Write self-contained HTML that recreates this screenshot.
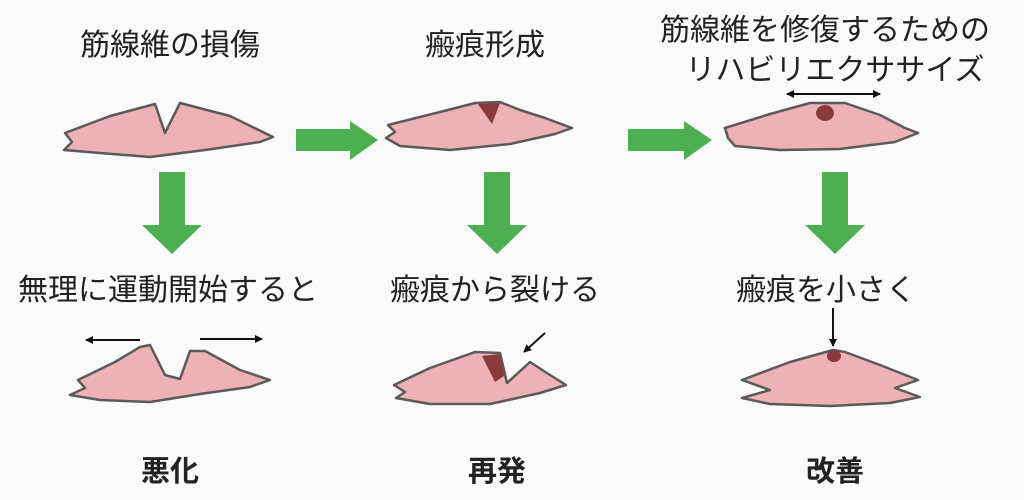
<!DOCTYPE html>
<html><head><meta charset="utf-8"><style>
html,body{margin:0;padding:0;background:#fafafa}
svg{display:block}
text{font-family:"Liberation Sans","Noto Sans CJK JP",sans-serif;fill:#222}
</style></head><body>
<svg width="1024" height="500" viewBox="0 0 1024 500" xmlns="http://www.w3.org/2000/svg">
<defs>
<marker id="ah" markerWidth="8" markerHeight="8" refX="7" refY="4" orient="auto" markerUnits="userSpaceOnUse"><path d="M0,0 L8,4 L0,8 z" fill="#111"/></marker>
</defs>
<rect width="1024" height="500" fill="#fafafa"/>
<g font-size="30" text-anchor="middle">
<text x="170" y="55">筋線維の損傷</text>
<text x="485" y="55">瘢痕形成</text>
<text x="825" y="40">筋線維を修復するための</text>
<text x="835" y="80">リハビリエクササイズ</text>
<text x="168" y="300">無理に運動開始すると</text>
<text x="495" y="300">瘢痕から裂ける</text>
<text x="826" y="300">瘢痕を小さく</text>
</g>
<g font-size="29" font-weight="bold" text-anchor="middle">
<text x="170" y="481">悪化</text>
<text x="497" y="481">再発</text>
<text x="835" y="481">改善</text>
</g>
<g fill="#4caf50">
<path d="M296,129 H350 V121 L378,140 L350,160 V151 H296 z"/>
<path d="M628,129 H684 V121 L712,140 L684,160 V151 H628 z"/>
<path d="M159,172 H185 V225 H202 L172,254 L142,225 H159 z"/>
<path d="M484,172 H510 V225 H527 L497,254 L467,225 H484 z"/>
<path d="M822,172 H848 V225 H865 L835,254 L805,225 H822 z"/>
</g>
<g fill="#eeb1b5" stroke="#5a5a5a" stroke-width="2.5" stroke-linejoin="round">
<path d="M65,133 L110,116 L155,104 L165,133 L180,103 L230,116 L273,137 L260,142 L205,150 L150,157 L100,153 L64,150 L72,142 z"/>
<path d="M388,125 L440,112 L475,103 L500,102 L520,110 L545,118 L572,128 L555,134 L510,144 L450,150 L400,146 L386,138 L395,132 z"/>
<path d="M725,128 L770,114 L810,103 L845,103 L880,115 L905,128 L918,133 L895,142 L840,149 L780,150 L735,146 L728,138 z"/>
<path d="M78,380 L115,362 L140,347 L150,345 L165,375 L180,379 L190,351 L205,351 L240,370 L270,380 L250,387 L200,394 L150,402 L100,400 L70,395 L85,388 z"/>
<path d="M394,385 L430,368 L475,352 L500,353 L507,383 L530,362 L550,375 L566,385 L540,393 L490,404 L430,404 L396,398 L405,392 z"/>
<path d="M742,380 L790,362 L833,350 L845,352 L880,365 L918,380 L895,388 L920,397 L890,403 L830,406 L770,404 L742,398 L770,390 z"/>
</g>
<g fill="#8a3a3a">
<path d="M478,104 L500,103 L492,124 z"/>
<ellipse cx="825" cy="113" rx="9" ry="8"/>
<path d="M482,356 L500,354 L504,376 L495,382 z"/>
<ellipse cx="834" cy="356" rx="7" ry="6"/>
</g>
<g stroke="#111" stroke-width="2" fill="none">
<line x1="140" y1="340" x2="86" y2="340" marker-end="url(#ah)"/>
<line x1="200" y1="339" x2="262" y2="339" marker-end="url(#ah)"/>
<line x1="545" y1="333" x2="524" y2="352" marker-end="url(#ah)"/>
<line x1="833" y1="308" x2="833" y2="346" marker-end="url(#ah)"/>
<line x1="795" y1="94" x2="880" y2="94" marker-end="url(#ah)"/>
<line x1="872" y1="94" x2="787" y2="94" marker-end="url(#ah)"/>
</g>
</svg>
</body></html>
